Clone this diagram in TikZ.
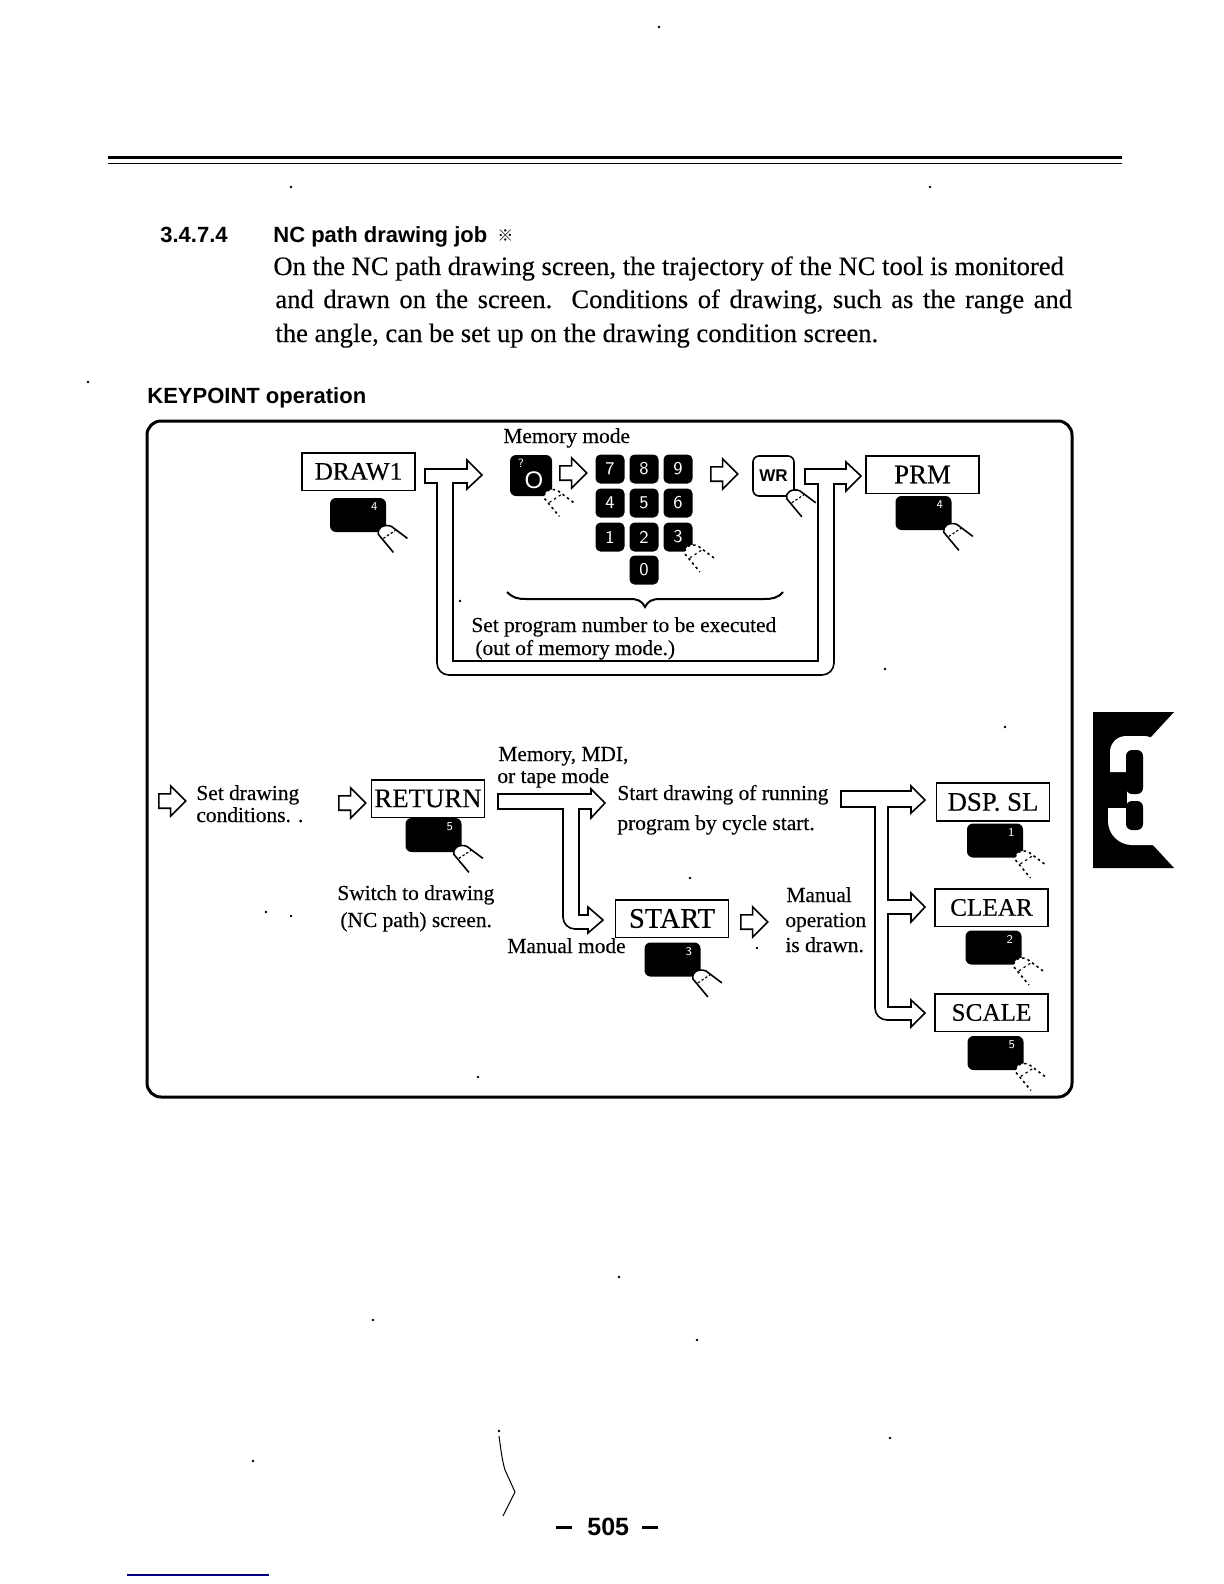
\documentclass[tikz,border=0pt]{standalone}
\usepackage{fontspec}
\setmainfont[FakeBold=0.3]{Liberation Serif}
\setsansfont{Liberation Sans}
\newfontfamily\cjk{Noto Sans CJK JP}
\newfontfamily\lmsans{Latin Modern Sans}
\usetikzlibrary{positioning,calc,shapes.arrows}
\tikzset{
  bodytext/.style={anchor=base west, inner sep=0pt, font=\fontsize{13.3}{15}\selectfont},
  headtext/.style={anchor=base west, inner sep=0pt, font=\sffamily\bfseries\fontsize{11}{12}\selectfont},
  figlabel/.style={anchor=base west, inner sep=0pt, font=\fontsize{10.7}{12}\selectfont},
  fnbox/.style={draw, line width=.8pt, fill=white, inner sep=0pt, minimum width=56.5pt, minimum height=18.8pt,
    font=\fontsize{13.4}{15}\selectfont},
  softkey/.style={fill=black, rounded corners=3pt, inner sep=0pt, minimum width=28pt, minimum height=17pt},
  keydigit/.style={inner sep=0pt, text=white, font=\lmsans\fontsize{6}{7}\selectfont},
  numkey/.style={fill=black, rounded corners=2.5pt, inner sep=0pt, minimum width=14.5pt, minimum height=14.5pt,
    text=white, font=\lmsans\fontsize{9}{10}\selectfont},
  hollow/.style={single arrow, draw, line width=.8pt, fill=white, inner sep=3.2pt, minimum height=13.5pt,
    single arrow head extend=4pt, anchor=tail},
  bigarrow/.style={draw, line width=.8pt, fill=white},
  speck/.style={fill=black},
  fingersolid/.pic={
    \draw[line width=.8pt, fill=white] (21,6) -- (5,-6) .. controls (-3,-9) and (-10,-4) .. (-8,2) -- (7,20);
    \draw[line width=.6pt, dash pattern=on 1.2pt off 1pt] (-3,6) -- (9,-2);
  },
  fingerdots/.pic={
    \draw[line width=.8pt, fill=white, dash pattern=on 1.2pt off 1.6pt] (21,6) -- (5,-6) .. controls (-3,-9) and (-10,-4) .. (-8,2) -- (7,20);
    \draw[line width=.6pt, dash pattern=on 1.2pt off 1.6pt] (-3,6) -- (9,-2);
  },
}
\begin{document}
\begin{tikzpicture}[x=.5pt, y=-.5pt]
  \useasboundingbox (0,0) rectangle (1224,1584);
  \fill[white] (0,0) rectangle (1224,1584);
  % rules on top
  \draw[line width=1.1pt] (108,157.5) -- (1122,157.5);
  \draw[line width=.9pt] (108,163.5) -- (1122,163.5);
  % heading and text
  \node[headtext] (secnum) at (160,242) {3.4.7.4};
  \node[headtext] (sectitle) at (273,242) {NC path drawing job};
  \node[inner sep=0pt, anchor=base west, font=\cjk\fontsize{8}{9}\selectfont] (secmark) at (497,241) {※};
  \node[bodytext] (bodya) at (273,275) {On the NC path drawing screen, the trajectory of the NC tool is monitored};
  \node[bodytext] (bodyb) at (275,308) {\spaceskip=.36em\relax and drawn on the screen.\ \ Conditions of drawing, such as the range and};
  \node[bodytext] (bodyc) at (275,342) {the angle, can be set up on the drawing condition screen.};
  \node[headtext] (keypoint) at (147,403) {KEYPOINT operation};
  % frame
  \draw[line width=1.5pt, rounded corners=7pt] (147,421) rectangle (1072,1097);
  % branched arrows
  \path[bigarrow] (425,469) -- (467,469) -- (467,460) -- (482,475) -- (467,489) -- (467,483) -- (453,483)
    -- (453,661) -- (818,661) -- (818,484) -- (805,484) -- (805,469) -- (846,469) -- (846,462) -- (861,476)
    -- (846,491) -- (846,484) -- (834,484) [rounded corners=6pt] -- (834,675) -- (437,675) [sharp corners]
    -- (437,483) -- (425,483) -- cycle;
  \path[bigarrow] (498,794) -- (591,794) -- (591,789) -- (605,803) -- (591,818) -- (591,809) -- (579,809)
    -- (579,915) -- (588,915) -- (588,907) -- (603,920) -- (588,933) -- (588,929) [rounded corners=6pt]
    -- (563,929) [sharp corners] -- (563,809) -- (498,809) -- cycle;
  \path[bigarrow] (841,791) -- (911,791) -- (911,786) -- (925,800) -- (911,813) -- (911,807) -- (888,807)
    -- (888,900) -- (911,900) -- (911,893) -- (925,907) -- (911,922) -- (911,914) -- (888,914)
    -- (888,1007) -- (911,1007) -- (911,1000) -- (925,1013) -- (911,1027) -- (911,1020) [rounded corners=6pt]
    -- (875,1020) [sharp corners] -- (875,807) -- (841,807) -- cycle;
  % function boxes
  \node[fnbox, font=\fontsize{12.6}{15}\selectfont] (draw1) at (358.5,471.5) {DRAW1};
  \node[fnbox] (prm) at (922.5,474.5) {PRM};
  \node[fnbox] (return) at (428,798.5) {RETURN};
  \node[fnbox, font=\fontsize{14.2}{15}\selectfont] (start) at (672,918.5) {START};
  \node[fnbox] (dspsl) at (993,802) {DSP. SL};
  \node[fnbox, font=\fontsize{12.6}{15}\selectfont] (clear) at (991.5,907.5) {CLEAR};
  \node[fnbox, font=\fontsize{12.6}{15}\selectfont] (scale) at (991.5,1012.5) {SCALE};
  % soft keys
  \foreach \n/\x/\y/\d in {kdraw/358/515/4, kprm/923.5/513/4, kreturn/433.5/835/5, kstart/672.5/959.5/3,
      kdsp/995/840.5/1, kclear/993.5/947.5/2, kscale/995.5/1053/5} {
    \node[softkey] (\n) at (\x,\y) {};
    \node[keydigit] (\n d) at ($(\n.north east)+(-12,9)$) {\d};
  }
  % keypad
  \node[softkey, minimum width=21pt, minimum height=20.5pt] (kzero) at (531,475.5) {};
  \node[inner sep=0pt, text=white, font=\sffamily\fontsize{12}{13}\selectfont] (kzeroo) at (534,480) {O};
  \node[inner sep=0pt, text=white, font=\lmsans\fontsize{6}{7}\selectfont] (kzerom) at (521,463) {?};
  \foreach \d/\x/\y in {7/610/469, 8/644/469, 9/678/469, 4/610/503, 5/644/503, 6/678/503,
      1/610/537, 2/644/537, 3/678/537, 0/644/570} {
    \node[numkey] (num\d) at (\x,\y) {\d};
  }
  \node[draw, line width=.8pt, rounded corners=3pt, fill=white, inner sep=0pt, minimum width=20.5pt, minimum height=20pt,
    font=\sffamily\bfseries\fontsize{8.5}{9}\selectfont] (wr) at (773.5,476) {WR};
  % fingers
  \foreach \n in {kdraw,kprm,kreturn,kstart,wr} \pic at (\n.south east) {fingersolid};
  \foreach \n in {kdsp,kclear,kscale,num3} \pic at (\n.south east) {fingerdots};
  \pic at (kzero.south east) {fingerdots};
  % small arrows
  \node[hollow] (arra) at (559,473) {};
  \node[hollow] (arrb) at (710,474) {};
  \node[hollow] (arrc) at (158,801) {};
  \node[hollow] (arrd) at (338,803) {};
  \node[hollow] (arre) at (740,922) {};
  % brace
  \draw[line width=1pt] (507,592) .. controls (513,598) and (518,599) .. (526,599) -- (630,599)
    .. controls (638,599) and (642,601) .. (645,607) .. controls (648,601) and (652,599) .. (660,599)
    -- (764,599) .. controls (772,599) and (778,598) .. (783,592);
  % labels
  \node[figlabel] (memmode) at (503,443) {Memory mode};
  \node[figlabel] (setprga) at (471,632) {Set program number to be executed};
  \node[figlabel] (setprgb) at (475,655) {(out of memory mode.)};
  \node[figlabel] (setdrwa) at (196,800) {Set drawing};
  \node[figlabel] (setdrwb) at (196,822) {conditions. .};
  \node[figlabel] (switcha) at (337,900) {Switch to drawing};
  \node[figlabel] (switchb) at (340,927) {(NC path) screen.};
  \node[figlabel] (mdia) at (498,761) {Memory, MDI,};
  \node[figlabel] (mdib) at (497,783) {or tape mode};
  \node[figlabel] (manmode) at (507,953) {Manual mode};
  \node[figlabel] (starta) at (617,800) {Start drawing of running};
  \node[figlabel] (startb) at (617,830) {program by cycle start.};
  \node[figlabel] (mana) at (786,902) {Manual};
  \node[figlabel] (manb) at (785,927) {operation};
  \node[figlabel] (manc) at (785,952) {is drawn.};
  % chapter tab
  \fill (1093,712) -- (1174,712) -- (1150,738) -- (1150,842) -- (1174,868) -- (1093,868) -- cycle;
  \fill[white] (1110,772) [rounded corners=8pt] -- (1110,736) -- (1160,736) [sharp corners] -- (1160,845)
    [rounded corners=12pt] -- (1108,845) [sharp corners] -- (1108,808) -- (1127,808) -- (1127,772) -- cycle;
  \fill[rounded corners=3pt] (1126,750) rectangle (1143,794);
  \fill[rounded corners=3pt] (1126,801) rectangle (1143,830);
  % page number
  \node[headtext, font=\sffamily\bfseries\fontsize{12.5}{14}\selectfont] (pageno) at (587,1535) {505};
  \node[inner sep=0pt, minimum width=8pt, minimum height=1.1pt, fill=black] (dasha) at (564,1527.5) {};
  \node[inner sep=0pt, minimum width=8pt, minimum height=1.1pt, fill=black] (dashb) at (650,1527.5) {};
  % scan marks
  \draw[line width=.5pt] (499,1436) .. controls (501,1450) and (502,1460) .. (505,1470) -- (515,1492) -- (503,1516);
  \draw[line width=.8pt, blue!50!black] (127,1575) -- (269,1575);
  \foreach \x/\y in {659/27, 291/187, 930/187, 88/382, 460/601, 885/669, 1005/727, 266/912, 291/916, 690/878,
      757/948, 478/1077, 619/1277, 373/1320, 697/1340, 890/1438, 253/1461, 499/1431} {
    \fill[speck] (\x,\y) circle (.7pt);
  }
\end{tikzpicture}
\end{document}
